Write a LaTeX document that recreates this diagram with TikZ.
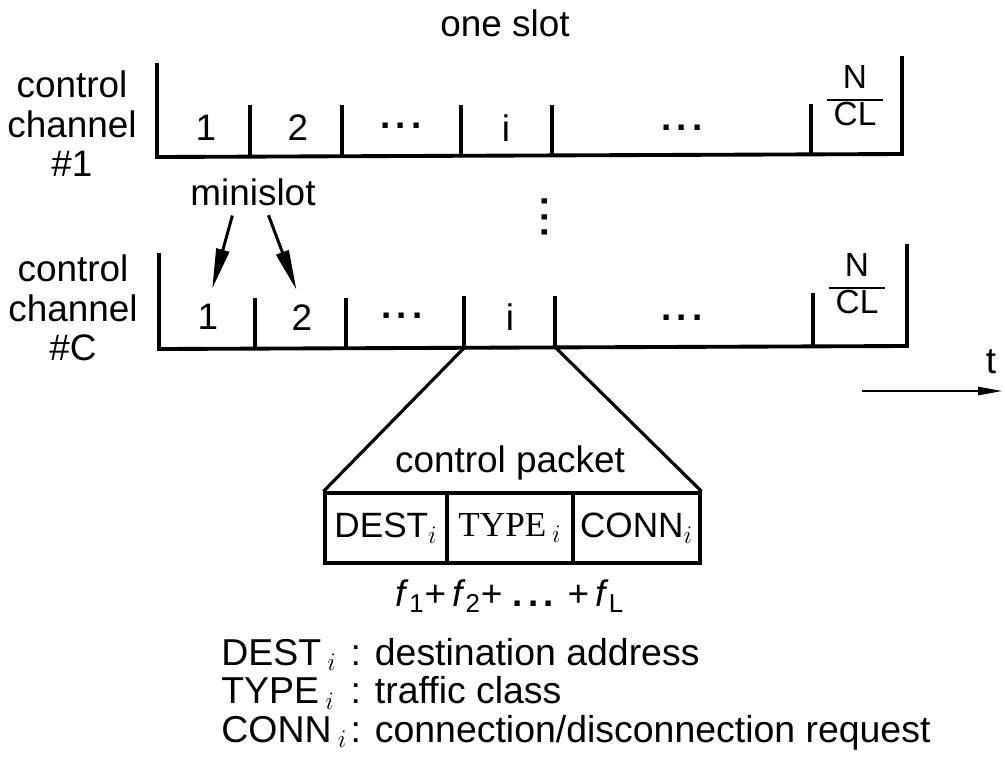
\documentclass[tikz,border=0pt]{standalone}
\usepackage{fontspec}
\setmainfont{Liberation Sans}
\newfontfamily\typefont{Liberation Serif}
\usetikzlibrary{arrows.meta,positioning}
\tikzset{
	txt/.style={font=\fontsize{21}{22.5}\selectfont,inner sep=0pt,align=center},
	fracnum/.style={font=\fontsize{19}{20}\selectfont,inner sep=0pt},
	chan/.style={line width=2.2pt,line join=miter},
	divider/.style={line width=2pt},
	field/.style={draw,line width=1.8pt,minimum height=14mm,inner sep=0pt,font=\fontsize{20}{24}\selectfont},
	fan/.style={line width=1.8pt},
	pointer/.style={line width=1.7pt,-{Triangle[length=8mm,width=2.6mm]},shorten <=2mm,shorten >=3.2mm},
	timeax/.style={line width=1.5pt,-{Triangle[length=5mm,width=1.6mm]}}
}
\newcommand{\ncl}{\setlength{\arrayrulewidth}{1.5pt}\setlength{\tabcolsep}{4pt}\begin{tabular}{c}N\\\hline CL\end{tabular}}
\newcommand{\slotdots}{\textbf{.\hspace{3pt}.\hspace{3pt}.}}

\begin{document}
\begin{tikzpicture}[x=0.2mm,y=-0.2mm]
	\useasboundingbox (0,0) rectangle (1005,767);
	\node[txt] (slot) at (505,23) {one slot};

	% channel 1
	\node[txt] (ch1) at (72,124) {control\\channel\\\#1};
	\draw[chan] (157,63) -- (157,157) -- (902,154) -- (902,56);
	\draw[divider] (250,105) -- (250,157);
	\draw[divider] (342,105) -- (342,156);
	\draw[divider] (461,105) -- (461,156);
	\draw[divider] (552,105) -- (552,155);
	\draw[divider] (811,104) -- (811,154);
	\node[txt] (ms11) at (206,128) {1};
	\node[txt] (ms12) at (298,128) {2};
	\node[txt] (ms13) at (401,126) {\slotdots};
	\node[txt] (ms1i) at (506,128) {i};
	\node[txt] (ms1d) at (682,128) {\slotdots};
	\node[fracnum] (ms1n) at (855,100) {\ncl};

	\node[txt] (mini) at (253,192) {minislot};
	\node[txt,rotate=90] (vdots) at (545,217) {\slotdots};

	% channel C
	\node[txt] (chC) at (73,308) {control\\channel\\\#C};
	\draw[chan] (159,253) -- (159,349) -- (907,346) -- (907,244);
	\draw[divider] (255,298) -- (255,349);
	\draw[divider] (346,298) -- (346,348);
	\draw[divider] (464,296) -- (464,348);
	\draw[divider] (555,296) -- (555,347);
	\draw[divider] (813,293) -- (813,346);
	\node[txt] (msC1) at (208,317) {1};
	\node[txt] (msC2) at (302,318) {2};
	\node[txt] (msC3) at (402,316) {\slotdots};
	\node[txt] (msCi) at (510,317) {i};
	\node[txt] (msCd) at (682,318) {\slotdots};
	\node[fracnum] (msCn) at (857,288) {\ncl};
	\coordinate (iL) at (464,348);
	\coordinate (iR) at (555,347);

	\draw[pointer] ([xshift=-3.6mm]mini.south) -- (msC1.north);
	\draw[pointer] ([xshift=2.4mm]mini.south) -- (msC2.north);

	% time axis
	\coordinate (t0) at (862,391);
	\coordinate (t1) at (1003,391);
	\draw[timeax] (t0) -- (t1);
	\node[txt] (tlbl) at (991,362) {t};

	% control packet
	\node[field,minimum width=24.4mm] (dest) at (386,528) {DEST$_i$};
	\node[field,minimum width=25.2mm,right=-1.8pt of dest,font=\typefont\fontsize{20}{24}\selectfont] (type) {TYPE\,$_i$};
	\node[field,minimum width=25.4mm,right=-1.8pt of type] (conn) {CONN$_i$};
	\draw[fan] (iL) -- (dest.north west);
	\draw[fan] (iR) -- (conn.north east);
	\node[txt,above=2.2mm of type] (pkt) {control packet};
	\node[txt,below=3mm of type] (len) {\textit{f}\textsubscript{1}+\,\textit{f}\textsubscript{2}+ \slotdots{} +\,\textit{f}\textsubscript{L}};

	% legend
	\node[txt,anchor=west,align=left,font=\fontsize{21.3}{22}\selectfont] (legend) at (221,696) {\begin{tabular}{@{}l@{\hspace{2pt}}l@{}}DEST\,$_i$ & : destination address\\TYPE\,$_i$ & : traffic class\\CONN\,$_i$ & : connection/disconnection request\end{tabular}};
\end{tikzpicture}
\end{document}
